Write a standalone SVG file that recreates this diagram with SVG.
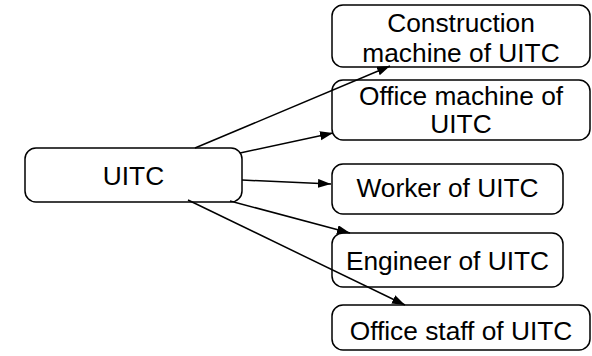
<svg xmlns="http://www.w3.org/2000/svg" width="592" height="356" viewBox="0 0 592 356">
<defs>
<style>
.box{fill:#fff;stroke:#000;stroke-width:1.5}
.t{font-family:"Liberation Sans",Arial,Helvetica,sans-serif;font-size:26.3px;fill:#000;text-anchor:middle}
.c{stroke:#000;stroke-width:1.5;fill:none;marker-end:url(#ah)}
</style>
<marker id="ah" markerUnits="userSpaceOnUse" markerWidth="14" markerHeight="10" refX="13" refY="4.5" orient="auto">
<path d="M0,0 L13,4.5 L0,9 z" fill="#000"/>
</marker>
</defs>
<rect width="592" height="356" fill="#fff"/>
<g id="n-uitc"><rect class="box" x="25" y="148" width="217" height="54" rx="11"/><text class="t" x="133.5" y="184.5">UITC</text></g>
<g id="n-construction"><rect class="box" x="332" y="5" width="258" height="62" rx="11"/><text class="t" x="461" y="32">Construction</text><text class="t" x="461" y="62">machine of UITC</text></g>
<g id="n-officemachine"><rect class="box" x="332" y="80" width="258" height="60" rx="11"/><text class="t" x="461" y="105">Office machine of</text><text class="t" x="461" y="133">UITC</text></g>
<g id="n-worker"><rect class="box" x="332" y="164" width="231" height="50" rx="11"/><text class="t" x="447.5" y="197">Worker of UITC</text></g>
<g id="n-engineer"><rect class="box" x="332" y="233" width="231" height="54" rx="11"/><text class="t" x="447.5" y="269.5">Engineer of UITC</text></g>
<g id="n-officestaff"><rect class="box" x="332" y="305" width="258" height="45" rx="11"/><text class="t" x="461" y="340">Office staff of UITC</text></g>
<g id="connectors">
<line class="c" x1="195" y1="148" x2="390" y2="66"/>
<line class="c" x1="240" y1="153" x2="333" y2="133"/>
<line class="c" x1="242" y1="180" x2="331" y2="184"/>
<line class="c" x1="230" y1="201" x2="350" y2="233"/>
<line class="c" x1="188" y1="200" x2="405" y2="305"/>
</g>
</svg>
